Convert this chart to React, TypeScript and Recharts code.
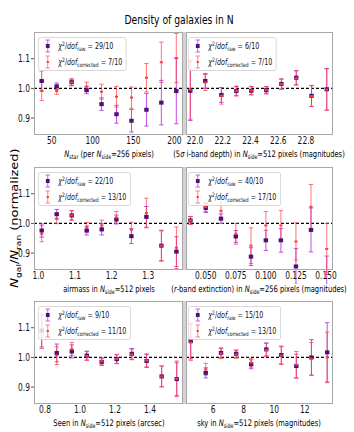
import React from "react";
import { ScatterChart, Scatter, XAxis, YAxis, ErrorBar, ReferenceLine } from "recharts";

// the whole figure looks squeezed sideways, text too
const SX = 0.75;
const FONT = "DejaVu Sans";
const RAW_BAR = "#c24ce6";
const RAW_DOT = "#4a1372";
const CORR_BAR = "rgba(255,60,60,0.7)";
const CORR_DOT = "#ff3b3b";

// N_star
const nstarX = [37.8, 56.1, 74.4, 92.7, 111.0, 129.3, 147.6, 165.9, 184.1, 202.4];
const nstarRaw = [1.025, 1.007, 1.021, 0.994, 0.947, 0.913, 0.891, 0.928, 0.952, 0.991];
const nstarRawErr = [0.034, 0.011, 0.011, 0.012, 0.021, 0.03, 0.038, 0.055, 0.075, 0.11];
const nstarCorr = [0.992, 0.991, 1.02, 1.006, 0.989, 0.972, 0.969, 1.036, 1.088, 1.102];
const nstarCorrErr = [0.033, 0.011, 0.011, 0.015, 0.025, 0.035, 0.036, 0.048, 0.068, 0.083];
const nstarTicks = [50, 100, 150, 200];

// 5 sigma i-band depth
const depthX = [21.966, 22.074, 22.19, 22.298, 22.406, 22.514, 22.623, 22.73, 22.84, 22.95];
const depthRaw = [0.992, 1.025, 0.978, 0.991, 0.992, 0.994, 1.015, 1.036, 0.975, 0.997];
const depthRawErr = [0.1, 0.025, 0.025, 0.016, 0.014, 0.012, 0.017, 0.024, 0.035, 0.07];
const depthCorr = [0.996, 1.02, 0.975, 0.991, 0.993, 0.994, 1.014, 1.035, 0.974, 0.996];
const depthCorrErr = [0.1, 0.027, 0.028, 0.016, 0.014, 0.012, 0.017, 0.024, 0.035, 0.07];
const depthTicks = [22.0, 22.2, 22.4, 22.6, 22.8];

// airmass
const airX = [1.009, 1.05, 1.091, 1.132, 1.173, 1.213, 1.254, 1.295, 1.336, 1.377];
const airRaw = [0.976, 1.031, 1.027, 0.976, 0.98, 1.013, 0.957, 1.022, 0.925, 0.905];
const airRawErr = [0.022, 0.016, 0.016, 0.015, 0.019, 0.015, 0.025, 0.035, 0.052, 0.05];
const airCorr = [0.965, 1.016, 1.027, 0.987, 0.993, 1.02, 0.979, 1.035, 0.925, 0.918];
const airCorrErr = [0.027, 0.017, 0.016, 0.016, 0.018, 0.02, 0.025, 0.05, 0.05, 0.07];
const airTicks = [1.0, 1.1, 1.2, 1.3];

// r-band extinction
const extX = [0.0373, 0.05, 0.0627, 0.075, 0.0876, 0.1, 0.1125, 0.125, 0.1375, 0.1506];
const extRaw = [1.01, 1.052, 1.016, 0.956, 0.888, 0.943, 0.943, 0.855, 0.978, 0.8];
const extRawErr = [0.013, 0.015, 0.016, 0.02, 0.03, 0.034, 0.04, 0.06, 0.074, 0.09];
const extCorr = [1.01, 1.055, 1.042, 0.965, 0.925, 0.993, 0.993, 0.939, 1.056, 0.914];
const extCorrErr = [0.013, 0.015, 0.03, 0.035, 0.06, 0.047, 0.05, 0.063, 0.075, 0.086];
const extTicks = [0.05, 0.075, 0.1, 0.125, 0.15];

// seeing
const seeX = [0.781, 0.867, 0.953, 1.039, 1.124, 1.21, 1.296, 1.381, 1.467, 1.553];
const seeRaw = [1.09, 1.015, 1.02, 1.006, 0.985, 0.994, 1.012, 0.988, 0.936, 0.927];
const seeRawErr = [0.055, 0.03, 0.022, 0.015, 0.012, 0.015, 0.018, 0.022, 0.035, 0.055];
const seeCorr = [1.085, 1.006, 1.028, 1.005, 0.987, 0.995, 1.01, 0.99, 0.936, 0.928];
const seeCorrErr = [0.055, 0.03, 0.022, 0.015, 0.012, 0.015, 0.018, 0.022, 0.035, 0.06];
const seeTicks = [0.8, 1.0, 1.2, 1.4];

// sky
const skyX = [4.54, 5.52, 6.52, 7.51, 8.49, 9.48, 10.46, 11.44, 12.43, 13.46];
const skyRaw = [1.055, 0.948, 1.015, 1.012, 0.977, 1.027, 1.008, 0.971, 1.0, 1.017];
const skyRawErr = [0.06, 0.017, 0.017, 0.013, 0.015, 0.022, 0.03, 0.04, 0.06, 0.1];
const skyCorr = [1.05, 0.96, 1.013, 1.01, 0.982, 1.025, 1.006, 0.975, 0.995, 1.0];
const skyCorrErr = [0.06, 0.02, 0.017, 0.013, 0.015, 0.022, 0.03, 0.045, 0.055, 0.085];
const skyTicks = [6, 8, 10, 12];

const yTicks = [0.9, 1.0, 1.1];

type Seg = { t: string; it?: boolean; sub?: boolean };

const panels = [
  {
    row: 0, col: 0, x: nstarX, raw: nstarRaw, rawErr: nstarRawErr, corr: nstarCorr, corrErr: nstarCorrErr,
    domain: [28.4, 210.6], ticks: nstarTicks, digits: 0, chi: ["29/10", "7/10"],
    label: [{ t: "N", it: true }, { t: "star", sub: true }, { t: " (per  " }, { t: "N", it: true }, { t: "side", sub: true }, { t: "=256 pixels)" }] as Seg[],
  },
  {
    row: 0, col: 1, x: depthX, raw: depthRaw, rawErr: depthRawErr, corr: depthCorr, corrErr: depthCorrErr,
    domain: [21.935, 22.995], ticks: depthTicks, digits: 1, chi: ["6/10", "7/10"],
    label: [{ t: "(5" }, { t: "σ", it: true }, { t: " i-band depth) in " }, { t: "N", it: true }, { t: "side", sub: true }, { t: "=512 pixels (magnitudes)" }] as Seg[],
  },
  {
    row: 1, col: 0, x: airX, raw: airRaw, rawErr: airRawErr, corr: airCorr, corrErr: airCorrErr,
    domain: [0.988, 1.395], ticks: airTicks, digits: 1, chi: ["22/10", "13/10"],
    label: [{ t: "airmass in " }, { t: "N", it: true }, { t: "side", sub: true }, { t: "=512 pixels" }] as Seg[],
  },
  {
    row: 1, col: 1, x: extX, raw: extRaw, rawErr: extRawErr, corr: extCorr, corrErr: extCorrErr,
    domain: [0.0336, 0.1558], ticks: extTicks, digits: 3, chi: ["40/10", "17/10"],
    label: [{ t: "(" }, { t: "r", it: true }, { t: "-band extinction) in " }, { t: "N", it: true }, { t: "side", sub: true }, { t: "=256 pixels (magnitudes)" }] as Seg[],
  },
  {
    row: 2, col: 0, x: seeX, raw: seeRaw, rawErr: seeRawErr, corr: seeCorr, corrErr: seeCorrErr,
    domain: [0.737, 1.589], ticks: seeTicks, digits: 1, chi: ["9/10", "11/10"],
    label: [{ t: "Seen in " }, { t: "N", it: true }, { t: "side", sub: true }, { t: "=512 pixels (arcsec)" }] as Seg[],
  },
  {
    row: 2, col: 1, x: skyX, raw: skyRaw, rawErr: skyRawErr, corr: skyCorr, corrErr: skyCorrErr,
    domain: [4.23, 13.84], ticks: skyTicks, digits: 0, chi: ["15/10", "13/10"],
    label: [{ t: "sky in " }, { t: "N", it: true }, { t: "side", sub: true }, { t: "=512 pixels (magnitudes)" }] as Seg[],
  },
];

const ROW_TOP = [32, 167, 301];
const PLOT_H = 103;
const COL_LEFT = [34, 186];
const COL_W = [149, 147];
const Y_DOMAIN = [0.843, 1.19];
const XH = 14;

function Rich({ segs, size }: { segs: Seg[]; size: number }) {
  const shift = size * 0.28;
  let down = false;
  return (
    <>
      {segs.map((s, i) => {
        let dy = 0;
        if (s.sub && !down) { dy = shift; down = true; }
        else if (!s.sub && down) { dy = -shift; down = false; }
        return (
          <tspan key={i} dy={dy || undefined} fontStyle={s.it ? "italic" : undefined} fontSize={s.sub ? size * 0.7 : undefined}>
            {s.t}
          </tspan>
        );
      })}
    </>
  );
}

function Label({ x, y, segs, size, rotate }: { x: number; y: number; segs: Seg[]; size: number; rotate?: boolean }) {
  const tr = rotate ? `translate(${x},${y}) rotate(-90) scale(1,${SX})` : `translate(${x},${y}) scale(${SX},1)`;
  return (
    <text transform={tr} textAnchor="middle" fontFamily={FONT} fontSize={size} fill="#000">
      <Rich segs={segs} size={size} />
    </text>
  );
}

const XTick = (props: any) => {
  const { x, y, payload, digits } = props;
  return (
    <g transform={`translate(${x},${y}) scale(${SX},1)`}>
      <text x={0} y={0} dy="0.71em" textAnchor="middle" fontSize={10} fontFamily={FONT} fill="#111">
        {Number(payload.value).toFixed(digits)}
      </text>
    </g>
  );
};

const YTick = (props: any) => {
  const { x, y, payload } = props;
  return (
    <g transform={`translate(${x},${y}) scale(${SX},1)`}>
      <text x={0} y={0} dy="0.355em" textAnchor="end" fontSize={10} fontFamily={FONT} fill="#111">
        {Number(payload.value).toFixed(1)}
      </text>
    </g>
  );
};

const rawShape = (p: any) => <rect x={p.cx - 2.2} y={p.cy - 2} width={4.4} height={4} fill={RAW_DOT} />;
const corrShape = (p: any) => <rect x={p.cx - 1.5} y={p.cy - 1} width={3} height={2} fill={CORR_DOT} />;

function Panel({ p }: { p: (typeof panels)[number] }) {
  const left = p.col === 0;
  const plotX = COL_LEFT[p.col];
  const plotW = COL_W[p.col];
  const plotY = ROW_TOP[p.row];
  const mt = 4;
  const mr = 14;
  const ml = left ? 0 : 6;
  const yW = left ? 34 : 0;
  const rawData = p.x.map((x, i) => ({ x, y: p.raw[i], e: p.rawErr[i] }));
  const corrData = p.x.map((x, i) => ({ x, y: p.corr[i], e: p.corrErr[i] }));
  return (
    <div style={{ position: "absolute", left: plotX - ml - yW, top: plotY - mt }}>
      <ScatterChart width={ml + yW + plotW + mr} height={mt + PLOT_H + XH} margin={{ top: mt, right: mr, bottom: 0, left: ml }}>
        <XAxis
          type="number" dataKey="x" domain={p.domain} ticks={p.ticks} allowDataOverflow
          axisLine={false} tickLine={false} tickSize={2} tickMargin={0} height={XH}
          tick={<XTick digits={p.digits} />} interval={0}
        />
        <YAxis
          type="number" dataKey="y" domain={Y_DOMAIN} ticks={yTicks} allowDataOverflow
          axisLine={false} width={yW} mirror={!left} tickSize={3} tickMargin={1}
          tickLine={{ stroke: "#555" }} tick={left ? <YTick /> : false} interval={0}
        />
        <ReferenceLine y={1} stroke="#000" strokeWidth={1.1} strokeDasharray="3 2" />
        <Scatter data={rawData} shape={rawShape} isAnimationActive={false}>
          <ErrorBar dataKey="e" direction="y" width={2.2} stroke={RAW_BAR} strokeWidth={1} />
        </Scatter>
        <Scatter data={corrData} shape={corrShape} isAnimationActive={false}>
          <ErrorBar dataKey="e" direction="y" width={2.2} stroke={CORR_BAR} strokeWidth={1} />
        </Scatter>
      </ScatterChart>
    </div>
  );
}

function LegendBox({ left, top, chi }: { left: number; top: number; chi: string[] }) {
  const sup = { fontSize: 6, position: "relative" as const, top: -3 };
  const sub = { fontSize: 6, position: "relative" as const, top: 2 };
  const row = (color: string, bar: string, dot: React.ReactNode, subText: string, val: string) => (
    <div style={{ display: "flex", alignItems: "center", height: 16 }}>
      <svg width={26} height={16} style={{ flex: "none" }}>
        <line x1={12} x2={12} y1={2} y2={14} stroke={bar} />
        <line x1={9} x2={15} y1={2} y2={2} stroke={bar} />
        <line x1={9} x2={15} y1={14} y2={14} stroke={bar} />
        {dot}
      </svg>
      <span style={{ color }}>
        <i>χ</i><span style={sup}>2</span>/<i>dof</i><span style={sub}>{subText}</span> = {val}
      </span>
    </div>
  );
  return (
    <div
      style={{
        position: "absolute", left, top, transform: `scaleX(${SX})`, transformOrigin: "0 0",
        background: "rgba(255,255,255,0.8)", border: "1px solid #d2d2d2", borderRadius: 3,
        padding: "0 5px 0 0", fontFamily: FONT, fontSize: 8.5, whiteSpace: "nowrap", lineHeight: "16px",
      }}
    >
      {row("#111", RAW_BAR, <rect x={9.5} y={6} width={5} height={4} fill={RAW_DOT} />, "raw", chi[0])}
      {row("#111", CORR_BAR, <rect x={10.5} y={7} width={3} height={2} fill={CORR_DOT} />, "corrected", chi[1])}
    </div>
  );
}

const titleText = "Density of galaxies in N";
const yLabel: Seg[] = [{ t: "N", it: true }, { t: "gal", sub: true }, { t: "/" }, { t: "N", it: true }, { t: "ran", sub: true }, { t: " (normalized)" }];

export default function App() {
  return (
    <div style={{ position: "absolute", left: 0, top: 0, width: 354, height: 432, background: "#fff", overflow: "hidden" }}>
      {panels.map((p, i) => (
        <Panel key={i} p={p} />
      ))}
      <svg width={354} height={432} style={{ position: "absolute", left: 0, top: 0, pointerEvents: "none" }}>
        {ROW_TOP.map((t, i) => (
          <g key={i}>
            <rect x={182.5} y={t} width={4} height={PLOT_H} fill="#d3d3d3" />
            <rect x={COL_LEFT[0] + 0.5} y={t + 0.5} width={COL_W[0] - 1} height={PLOT_H - 1} fill="none" stroke="#a8a8a8" />
            <rect x={COL_LEFT[1] + 0.5} y={t + 0.5} width={COL_W[1] - 1} height={PLOT_H - 1} fill="none" stroke="#a8a8a8" />
          </g>
        ))}
        <Label x={179} y={24} segs={[{ t: titleText }]} size={12.3} />
        <Label x={18} y={218} segs={yLabel} size={13} rotate />
        {panels.map((p, i) => (
          <Label key={i} x={p.col === 0 ? 109 : 259} y={ROW_TOP[p.row] + PLOT_H + 21.5} segs={p.label} size={9} />
        ))}
      </svg>
      {panels.map((p, i) => (
        <LegendBox key={i} left={COL_LEFT[p.col] + (p.col === 0 ? 3.5 : 1.5)} top={ROW_TOP[p.row] + 5} chi={p.chi} />
      ))}
    </div>
  );
}
